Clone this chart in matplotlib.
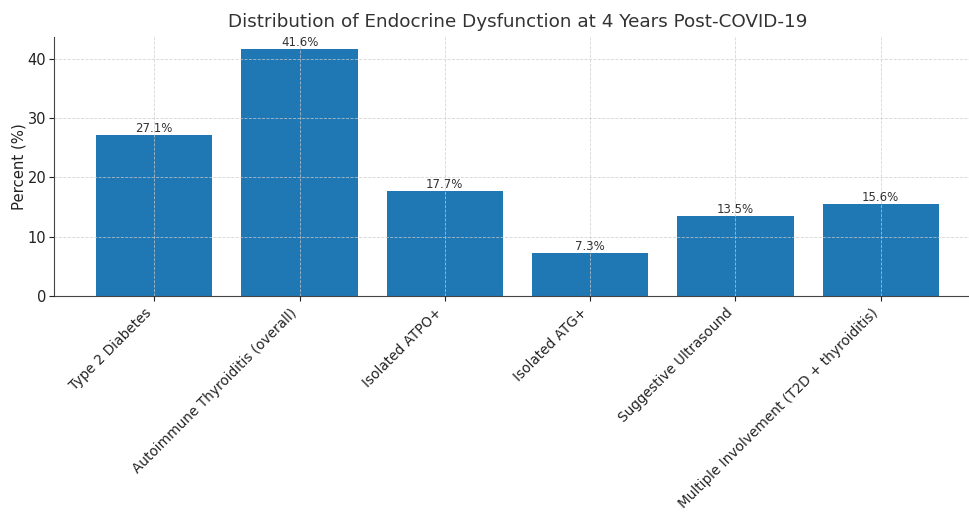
import matplotlib
matplotlib.use("Agg")
import matplotlib.pyplot as plt

categories = [
    "Type 2 Diabetes",
    "Autoimmune Thyroiditis (overall)",
    "Isolated ATPO+",
    "Isolated ATG+",
    "Suggestive Ultrasound",
    "Multiple Involvement (T2D + thyroiditis)",
]
values = [27.1, 41.6, 17.7, 7.3, 13.5, 15.6]
bar_labels = ["27.1%", "41.6%", "17.7%", "7.3%", "13.5%", "15.6%"]

fig = plt.figure(figsize=(9.7, 5.19), dpi=100)
ax = fig.add_axes([0.0557, 0.4297, 1.0113 - 0.0557, 0.9287 - 0.4297])

bars = ax.bar(categories, values, color="#1f77b4", width=0.8, zorder=2)
for b, lab in zip(bars, bar_labels):
    ax.text(b.get_x() + b.get_width() / 2, b.get_height(), lab,
            ha="center", va="bottom", fontsize=8.5, color="#333333", zorder=3)

ax.set_ylim(0, 43.7)
ax.set_yticks([0, 10, 20, 30, 40])
ax.set_title("Distribution of Endocrine Dysfunction at 4 Years Post-COVID-19",
             fontsize=13.2, color="#333333", pad=7)
ax.set_ylabel("Percent (%)", fontsize=10.7, color="#222222", labelpad=1)
ax.grid(True, linestyle="--", linewidth=0.6, color="#cccccc", alpha=0.8, zorder=0)
ax.set_axisbelow(False)
for s in ["top", "right"]:
    ax.spines[s].set_visible(False)
for s in ["left", "bottom"]:
    ax.spines[s].set_color("#444444")
ax.tick_params(axis="y", labelsize=10.5, colors="#222222", pad=2)
ax.tick_params(axis="x", labelsize=9.8, colors="#222222")
plt.setp(ax.get_xticklabels(), rotation=45, ha="right")

fig.savefig("out.png", dpi=100)
